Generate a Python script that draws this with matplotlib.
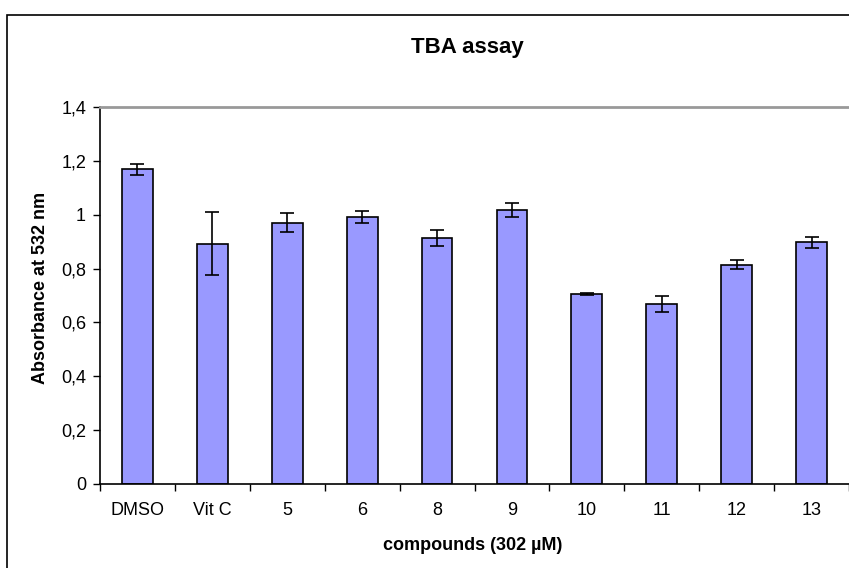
import matplotlib.pyplot as plt
import numpy as np
from matplotlib.patches import Rectangle

plt.rcParams['font.family'] = ['Liberation Sans', 'DejaVu Sans']

compounds = ['DMSO', 'Vit C', '5', '6', '8', '9', '10', '11', '12', '13']
absorbance = [1.169, 0.892, 0.970, 0.991, 0.915, 1.017, 0.707, 0.670, 0.815, 0.898]
errors = [0.021, 0.117, 0.035, 0.021, 0.030, 0.027, 0.004, 0.030, 0.018, 0.021]
yticks = [0, 0.2, 0.4, 0.6, 0.8, 1.0, 1.2, 1.4]
ytick_labels = ['0', '0,2', '0,4', '0,6', '0,8', '1', '1,2', '1,4']

W, H = 849, 568
fig = plt.figure(figsize=(W / 100, H / 100), dpi=100)

# chart frame
fig.patches.append(Rectangle((7 / W, -0.1), 1.2, 1 - 15 / H + 0.1,
                             transform=fig.transFigure, fill=False,
                             edgecolor='black', linewidth=1.2))

ax = fig.add_axes([100 / W, 1 - 484 / H, (W - 100) / W, (484 - 107) / H])
x = np.arange(len(compounds))
ax.bar(x, absorbance, width=0.41, color='#9999FF', edgecolor='black',
       linewidth=1.2, yerr=errors, capsize=5,
       error_kw=dict(elinewidth=1.2, capthick=1.2, ecolor='black'))

ax.set_xlim(-0.5, len(compounds) - 0.5)
ax.set_ylim(0, 1.4)
ax.set_yticks(yticks)
ax.set_yticklabels(ytick_labels, fontsize=13)
ax.set_xticks(x)
ax.set_xticklabels(compounds, fontsize=13)
ax.set_xticks(np.arange(len(compounds) + 1) - 0.5, minor=True)
ax.tick_params(axis='x', which='major', length=0, pad=13)
ax.tick_params(axis='x', which='minor', length=5, width=1, direction='out')
ax.tick_params(axis='y', length=5, width=1, direction='out', pad=5)

for s in ['left', 'bottom']:
    ax.spines[s].set_color('black')
    ax.spines[s].set_linewidth(1.2)
ax.spines['top'].set_color('#999999')
ax.spines['top'].set_linewidth(2)
ax.spines['right'].set_visible(False)

fig.text(467 / W, 1 - 47 / H, 'TBA assay', ha='center', va='center',
         fontsize=16, fontweight='bold')
fig.text(473 / W, 1 - 546 / H, 'compounds (302 µM)', ha='center', va='center',
         fontsize=13, fontweight='bold')
fig.text(41 / W, 1 - 288 / H, 'Absorbance at 532 nm', ha='center', va='center',
         rotation=90, fontsize=13, fontweight='bold')

fig.savefig('out.png', dpi=100)
